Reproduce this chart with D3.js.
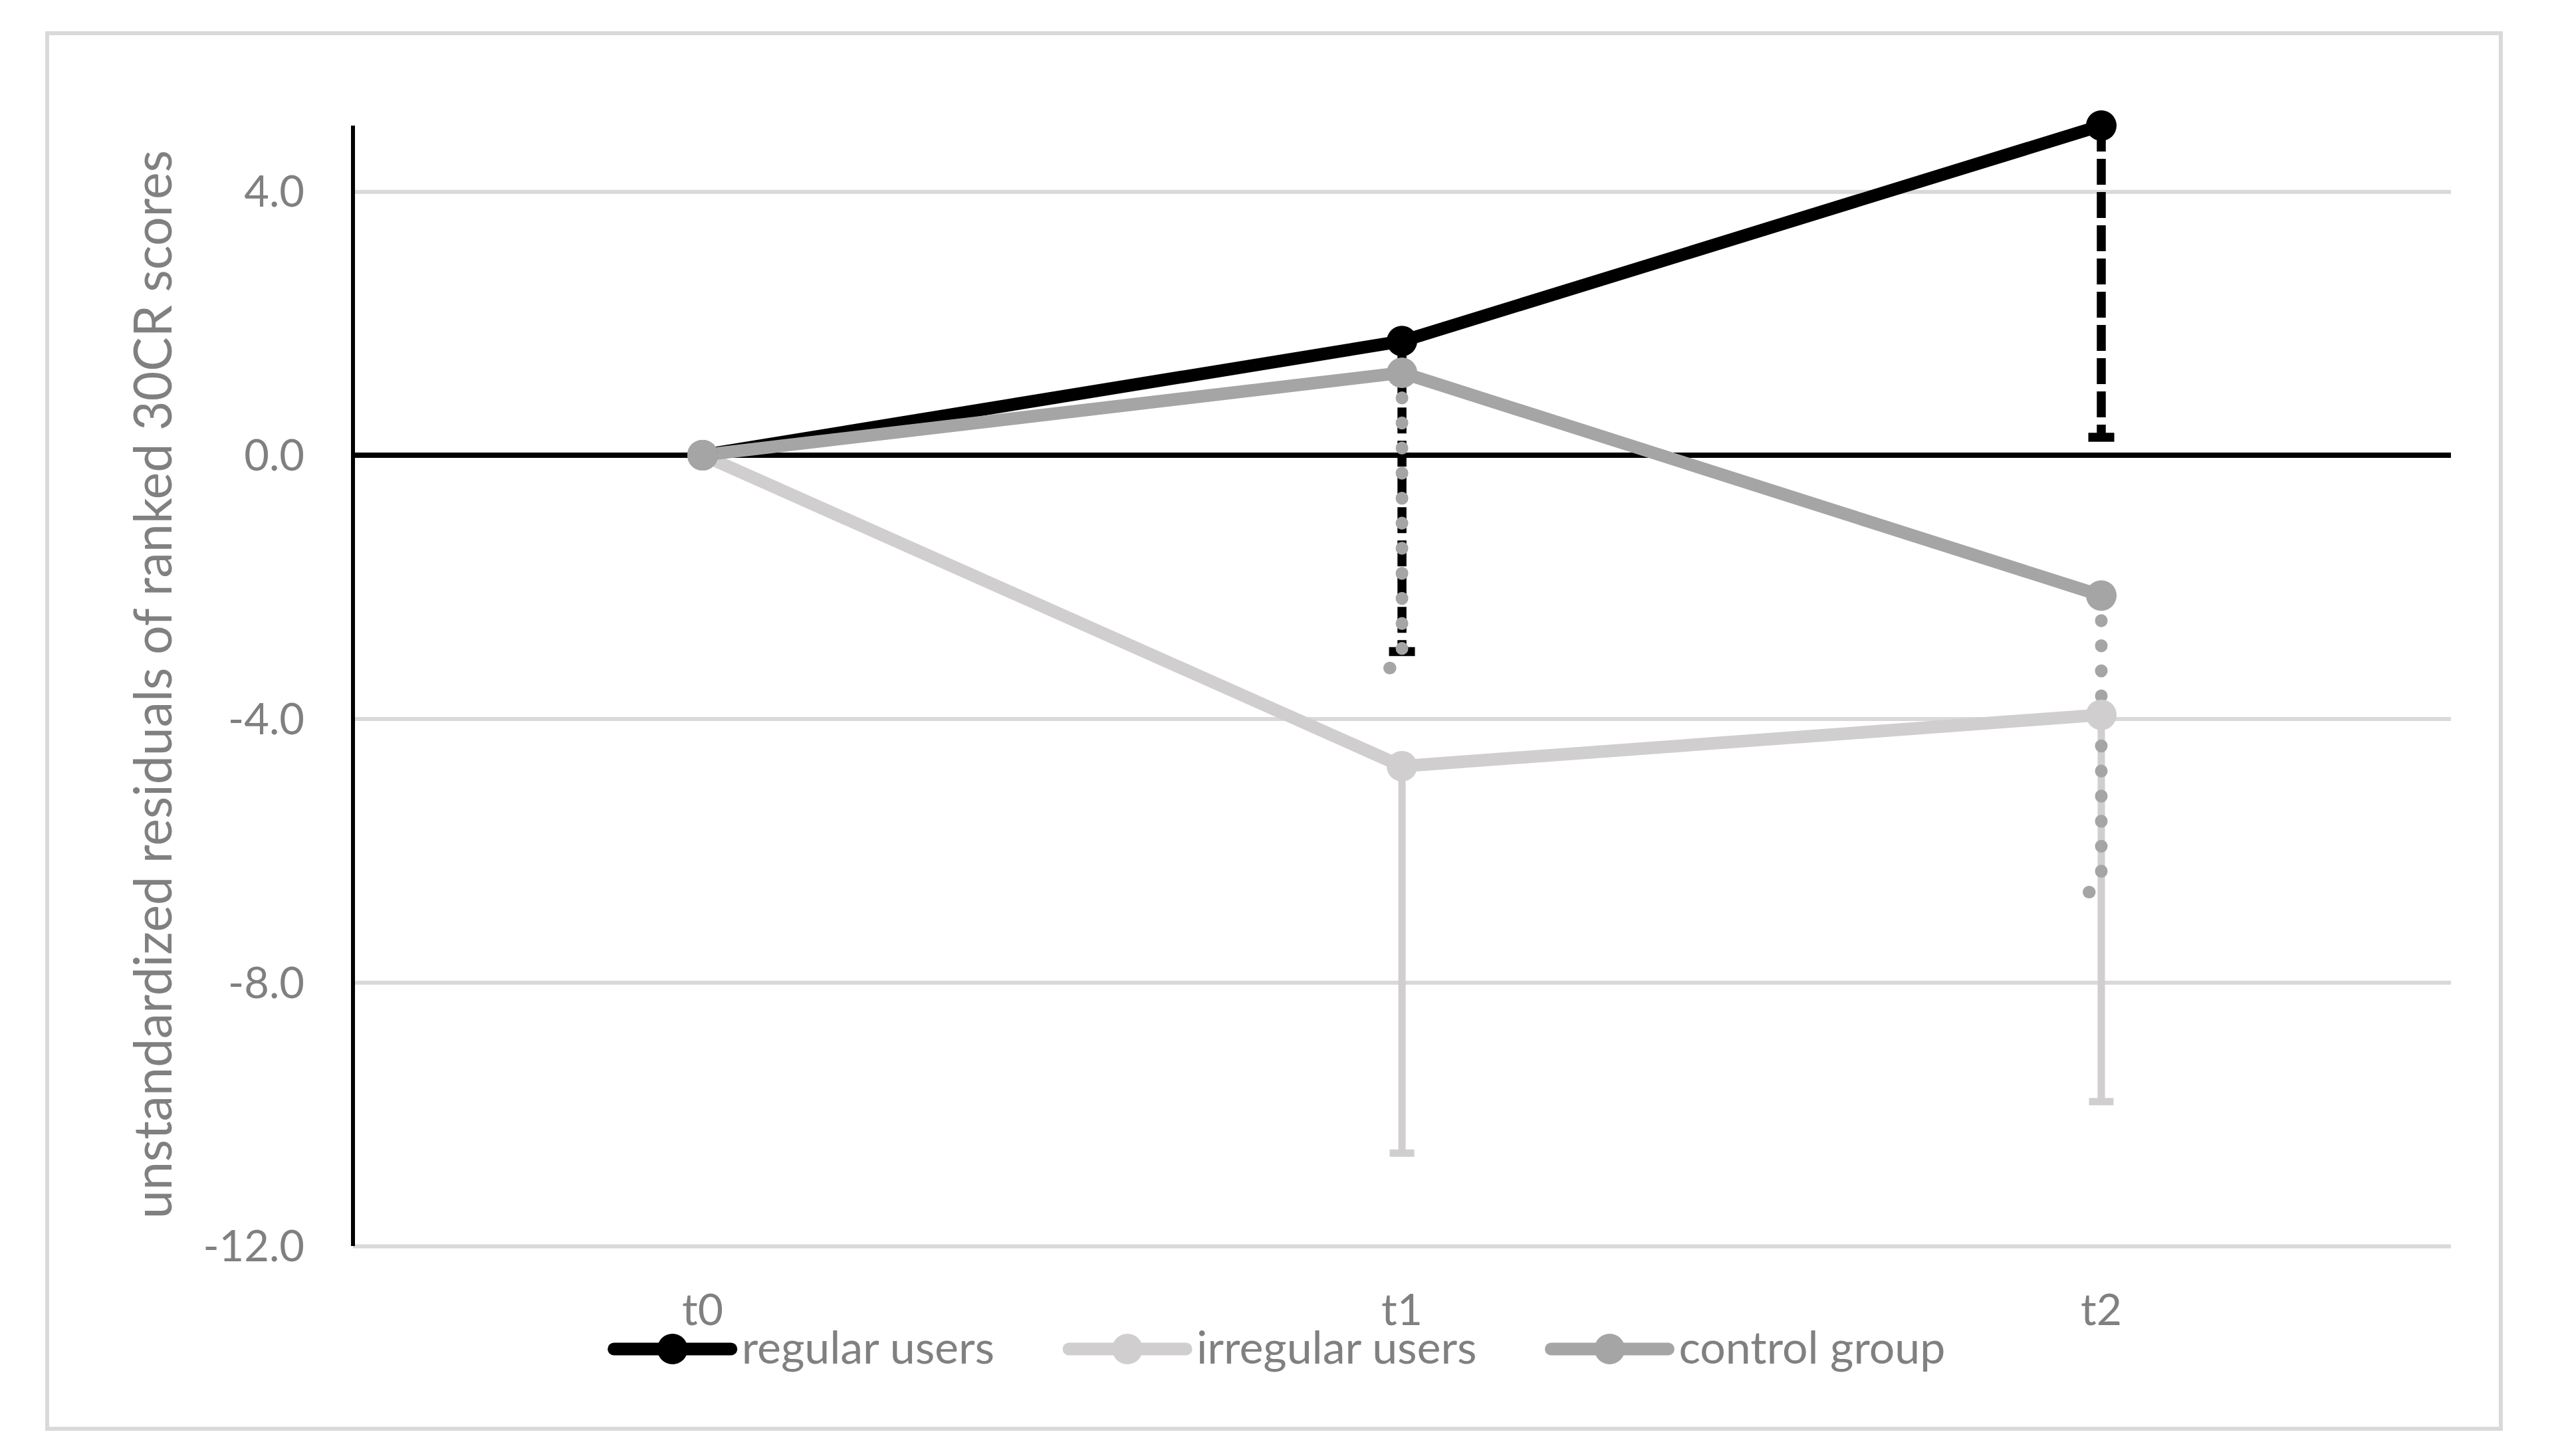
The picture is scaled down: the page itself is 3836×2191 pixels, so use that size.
<!DOCTYPE html>
<html>
<head>
<meta charset="utf-8">
<script src="https://cdn.jsdelivr.net/npm/d3@7"></script>
<style>
  body { margin: 0; background: #ffffff; }
  svg { display: block; font-family: Lato, "Noto Sans", sans-serif; }
</style>
</head>
<body>
<svg id="chart" width="3836" height="2191"></svg>
<script>
// chart values
var categories = ["t0", "t1", "t2"];
var seriesNames = ["regular users", "irregular users", "control group"];
var regularUsers = [0, 1.73, 5.0];
var irregularUsers = [0, -4.72, -3.94];
var controlGroup = [0, 1.25, -2.13];
// error bars only go in the minus direction
var regularErrMinus = [0, 4.71, 4.73];
var irregularErrMinus = [0, 5.87, 5.87];
var controlErrMinus = [0, 4.48, 4.50];
var yTicks = [4, 0, -4, -8, -12];

var svg = d3.select("#chart");

// layout
var plotLeft = 531, plotRight = 3687, plotTop = 189, plotBottom = 1875;
var textGrey = "#808080";
var gridGrey = "#d9d9d9";

// styles for each series
var styles = [
  { color: "#000000", errWidth: 13.5, errDash: "39,11", errCap: "butt", capW: 39 },
  { color: "#d0cece", errWidth: 11, errDash: null, errCap: "butt", capW: 37 },
  { color: "#a5a5a5", errWidth: 19, errDash: "0.5,37.2", errCap: "round", capW: 37 }
];

var series = [
  { name: seriesNames[0], values: regularUsers, err: regularErrMinus },
  { name: seriesNames[1], values: irregularUsers, err: irregularErrMinus },
  { name: seriesNames[2], values: controlGroup, err: controlErrMinus }
];

var x = d3.scaleBand().domain(categories).range([plotLeft, plotRight]);
var cx = function(c) { return x(c) + x.bandwidth() / 2; };
var y = d3.scaleLinear().domain([-12, 5]).range([plotBottom, plotTop]);

// outer frame of the chart area
svg.append("rect")
  .attr("x", 71).attr("y", 50)
  .attr("width", 3691).attr("height", 2100)
  .attr("fill", "none")
  .attr("stroke", gridGrey)
  .attr("stroke-width", 6);

// y axis with gridlines
var yAxis = svg.append("g")
  .attr("transform", "translate(" + plotLeft + ",0)")
  .call(d3.axisLeft(y)
    .tickValues(yTicks)
    .tickSize(-(plotRight - plotLeft))
    .tickPadding(73)
    .tickFormat(function(d) { return d.toFixed(1); }));

yAxis.select(".domain").remove();
yAxis.selectAll(".tick line")
  .attr("stroke", gridGrey)
  .attr("stroke-width", 6);
yAxis.selectAll(".tick text")
  .attr("fill", textGrey)
  .attr("font-size", 65)
  .attr("font-family", "Lato, sans-serif")
  .attr("dy", "0.35em");

// horizontal axis line at zero
svg.append("line")
  .attr("x1", plotLeft).attr("x2", plotRight)
  .attr("y1", y(0)).attr("y2", y(0))
  .attr("stroke", "#000")
  .attr("stroke-width", 8);

// vertical axis line
svg.append("line")
  .attr("x1", plotLeft).attr("x2", plotLeft)
  .attr("y1", plotTop).attr("y2", plotBottom)
  .attr("stroke", "#000")
  .attr("stroke-width", 6);

// category labels at the bottom
var xAxis = svg.append("g")
  .attr("transform", "translate(0," + plotBottom + ")")
  .call(d3.axisBottom(x).tickSize(0).tickPadding(0));
xAxis.select(".domain").remove();
xAxis.selectAll(".tick text")
  .attr("fill", textGrey)
  .attr("font-size", 66)
  .attr("font-family", "Lato, sans-serif")
  .attr("y", 119)
  .attr("dy", 0);

// y axis title
svg.append("text")
  .attr("transform", "translate(258,1030) rotate(-90)")
  .attr("text-anchor", "middle")
  .attr("fill", textGrey)
  .attr("font-size", 80)
  .attr("textLength", 1608)
  .attr("lengthAdjust", "spacingAndGlyphs")
  .text("unstandardized residuals of ranked 30CR scores");

var line = d3.line()
  .x(function(d, i) { return cx(categories[i]); })
  .y(function(d) { return y(d); });

// lines first
series.forEach(function(s, k) {
  svg.append("path")
    .datum(s.values)
    .attr("d", line)
    .attr("fill", "none")
    .attr("stroke", styles[k].color)
    .attr("stroke-width", 19)
    .attr("stroke-linejoin", "round")
    .attr("stroke-linecap", "round");
});

// error bars (minus only)
series.forEach(function(s, k) {
  var st = styles[k];
  var g = svg.append("g");
  s.values.forEach(function(v, i) {
    if (!s.err[i]) return;
    var px = cx(categories[i]);
    var low = v - s.err[i];
    g.append("line")
      .attr("x1", px).attr("x2", px)
      .attr("y1", y(v)).attr("y2", y(low))
      .attr("stroke", st.color)
      .attr("stroke-width", st.errWidth)
      .attr("stroke-dasharray", st.errDash)
      .attr("stroke-linecap", st.errCap);
    g.append("line")
      .attr("x1", px - st.capW / 2).attr("x2", px + st.capW / 2)
      .attr("y1", y(low)).attr("y2", y(low))
      .attr("stroke", st.color)
      .attr("stroke-width", st.errWidth)
      .attr("stroke-dasharray", st.errDash)
      .attr("stroke-linecap", st.errCap);
  });
});

// markers on top
series.forEach(function(s, k) {
  svg.append("g").selectAll("circle")
    .data(s.values)
    .enter()
    .append("circle")
    .attr("cx", function(d, i) { return cx(categories[i]); })
    .attr("cy", function(d) { return y(d); })
    .attr("r", 23)
    .attr("fill", styles[k].color);
});

// legend, centred under the chart
var legend = svg.append("g");
var lineLen = 176, textGap = 16, itemGap = 112, legendY = 2030;
var items = [];
var pos = 0;
series.forEach(function(s, k) {
  var item = legend.append("g");
  item.append("line")
    .attr("x1", 0).attr("x2", lineLen)
    .attr("y1", 0).attr("y2", 0)
    .attr("stroke", styles[k].color)
    .attr("stroke-width", 19)
    .attr("stroke-linecap", "round");
  item.append("circle")
    .attr("cx", lineLen / 2).attr("cy", 0)
    .attr("r", 23)
    .attr("fill", styles[k].color);
  var t = item.append("text")
    .attr("x", lineLen + textGap)
    .attr("y", 22)
    .attr("fill", textGrey)
    .attr("font-size", 68)
    .text(s.name);
  var w = t.node().getComputedTextLength();
  item.attr("transform", "translate(" + pos + "," + legendY + ")");
  pos += lineLen + textGap + w + itemGap;
});
var legendW = pos - itemGap;
legend.attr("transform", "translate(" + (1925 - legendW / 2) + ",0)");
</script>
</body>
</html>
